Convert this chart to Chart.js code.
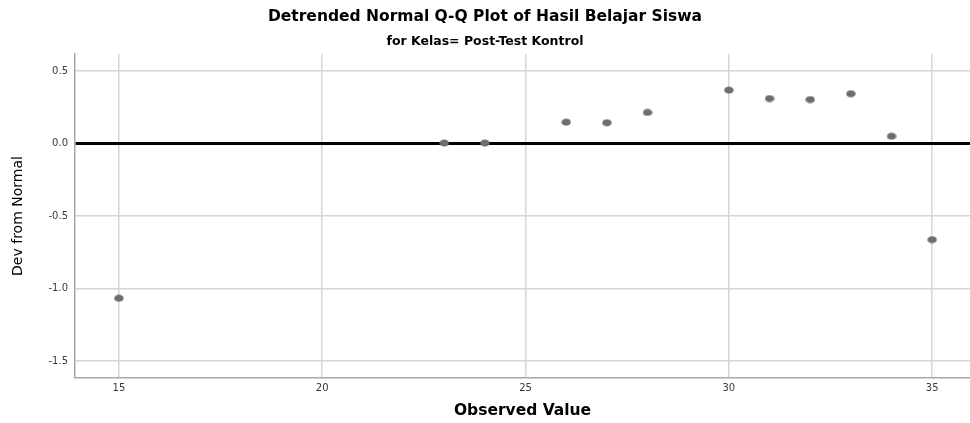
<!DOCTYPE html>
<html lang="en">
<head>
    <meta charset="UTF-8">
    <title>Detrended Normal Q-Q Plot of Hasil Belajar Siswa</title>
    <style>
        body {
            margin: 0;
            background-color: #ffffff;
        }
    </style>
</head>
<body>

<canvas id="qqChart" width="970" height="423"></canvas>

<script src="https://cdn.jsdelivr.net/npm/chart.js"></script>
<script>
    // Observed values and their deviation from normal
    const observedValues = [15, 23, 24, 26, 27, 28, 30, 31, 32, 33, 34, 35];
    const devFromNormal = [-1.067, 0.003, 0.003, 0.147, 0.143, 0.214, 0.368, 0.310, 0.303, 0.343, 0.050, -0.663];

    // Tick labels shown on each axis
    const xTicks = [15, 20, 25, 30, 35];
    const yTicks = [0.5, 0.0, -0.5, -1.0, -1.5];

    const points = observedValues.map((x, i) => ({x: x, y: devFromNormal[i]}));

    // SPSS draws slightly flattened dots, so use a small ellipse image as the point style
    const dot = document.createElement('canvas');
    dot.width = 10;
    dot.height = 8;
    const dctx = dot.getContext('2d');
    dctx.fillStyle = '#6e6e6e';
    dctx.beginPath();
    dctx.ellipse(5, 4, 4.7, 3.6, 0, 0, Math.PI * 2);
    dctx.fill();

    const fontFamily = '"DejaVu Sans", Arial, sans-serif';
    const gridGray = '#d6d6d6';

    const config = {
        type: 'scatter',
        data: {
            datasets: [{
                label: 'Dev from Normal',
                data: points,
                pointStyle: dot,
                pointRadius: 5,
                pointHoverRadius: 5
            }]
        },
        options: {
            responsive: false,
            animation: false,
            layout: {padding: 0, autoPadding: false},
            plugins: {
                legend: {display: false},
                tooltip: {enabled: false},
                title: {
                    display: true,
                    text: 'Detrended Normal Q-Q Plot of Hasil Belajar Siswa',
                    color: '#000',
                    font: {family: fontFamily, size: 15.5, weight: 'bold', lineHeight: 1.2},
                    padding: {top: 8, bottom: 7.4}
                },
                subtitle: {
                    display: true,
                    text: 'for Kelas= Post-Test Kontrol',
                    color: '#000',
                    font: {family: fontFamily, size: 12.5, weight: 'bold', lineHeight: 1.2},
                    padding: {top: 0, bottom: 5}
                }
            },
            scales: {
                x: {
                    type: 'linear',
                    min: 13.92,
                    max: 35.93,
                    afterBuildTicks: scale => {
                        scale.ticks = xTicks.map(v => ({value: v}));
                    },
                    afterFit: scale => {
                        scale.height = 45;
                    },
                    grid: {
                        color: gridGray,
                        lineWidth: 1.5,
                        drawTicks: false
                    },
                    border: {display: true, color: '#a8a8a8', width: 1.5},
                    ticks: {
                        color: '#3a3a3a',
                        padding: 4,
                        font: {family: fontFamily, size: 10}
                    },
                    title: {
                        display: true,
                        text: 'Observed Value',
                        color: '#000',
                        font: {family: fontFamily, size: 15.5, weight: 'bold', lineHeight: 1.2},
                        padding: {top: 0, bottom: 3}
                    }
                },
                y: {
                    type: 'linear',
                    min: -1.617,
                    max: 0.617,
                    afterBuildTicks: scale => {
                        scale.ticks = yTicks.map(v => ({value: v}));
                    },
                    afterFit: scale => {
                        scale.width = 75;
                    },
                    grid: {
                        // the zero reference line is drawn heavy and black
                        color: ctx => (ctx.tick && ctx.tick.value === 0) ? '#000' : gridGray,
                        lineWidth: ctx => (ctx.tick && ctx.tick.value === 0) ? 3 : 1.5,
                        drawTicks: false
                    },
                    border: {display: true, color: '#a8a8a8', width: 1.5},
                    ticks: {
                        color: '#3a3a3a',
                        padding: 7,
                        font: {family: fontFamily, size: 10},
                        callback: value => value.toFixed(1)
                    },
                    title: {
                        display: true,
                        text: 'Dev from Normal',
                        color: '#000',
                        font: {family: fontFamily, size: 14, lineHeight: 1.2},
                        padding: {top: 10, bottom: 0}
                    }
                }
            }
        }
    };

    const qqChart = new Chart(document.getElementById('qqChart'), config);
</script>

</body>
</html>
